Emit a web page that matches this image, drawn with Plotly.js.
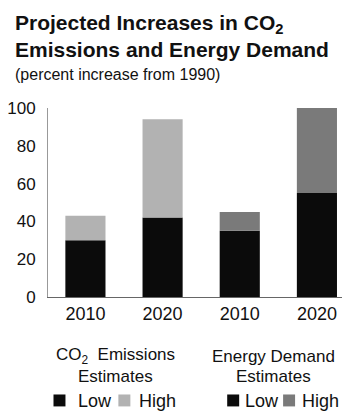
<!DOCTYPE html>
<html>
<head>
<meta charset="utf-8">
<script src="https://cdn.plot.ly/plotly-3.0.1.min.js"></script>
<style>
  html, body { margin: 0; padding: 0; background: #fff; }
  #chart { width: 349px; height: 412px; }
</style>
</head>
<body>
<div id="chart"></div>
<script>
// Projected increase over 1990 levels, in percent
const yearLabels = ['2010', '2020', '2010', '2020'];
const lowEstimate = [30, 42, 35, 55];    // CO2 2010, CO2 2020, Energy 2010, Energy 2020
const highEstimate = [43, 94, 45, 100];  // upper end of each projection
const titleLines = ['Projected Increases in CO<sub>2</sub>', 'Emissions and Energy Demand'];
const subtitle = '(percent increase from 1990)';
const groupTitles = [
  ['CO<sub>2</sub>  Emissions', 'Estimates'],
  ['Energy Demand', 'Estimates']
];
const seriesNames = ['Low', 'High'];

// colours: low estimates in black, high estimates in grey (lighter for CO2)
const lowColor = '#0b0b0b';
const highColors = ['#b2b2b2', '#b2b2b2', '#7a7a7a', '#7a7a7a'];

const FONT = '"Liberation Sans", Arial, Helvetica, sans-serif';
const W = 349, H = 412;
const M = { l: 47.5, r: 7, t: 107.5, b: 114.5 };
const plotW = W - M.l - M.r, plotH = H - M.t - M.b;
// pixel -> paper helpers for the hand-placed texts and legend
const px = x => (x - M.l) / plotW;
const py = y => (H - M.b - y) / plotH;

const xPos = yearLabels.map((_, i) => i);
const highPart = highEstimate.map((v, i) => v - lowEstimate[i]);

const traces = [
  {
    type: 'bar', x: xPos, y: lowEstimate, name: seriesNames[0],
    width: 0.52, marker: { color: lowColor, line: { width: 0 } },
    hoverinfo: 'skip', showlegend: false
  },
  {
    type: 'bar', x: xPos, y: highPart, base: lowEstimate, name: seriesNames[1],
    width: 0.52, marker: { color: highColors, line: { width: 0 } },
    hoverinfo: 'skip', showlegend: false
  }
];

const annotations = [];
const shapes = [];

// heading: two bold lines plus the units note
titleLines.forEach((line, k) => {
  annotations.push({
    text: '<b>' + line + '</b>', xref: 'paper', yref: 'paper',
    x: px(12), y: py(8 + k * 27), xanchor: 'left', yanchor: 'top', showarrow: false,
    font: { family: FONT, size: 21, color: '#111' }
  });
});
annotations.push({
  text: subtitle, xref: 'paper', yref: 'paper',
  x: px(12), y: py(74), xanchor: 'left', yanchor: 'middle', showarrow: false,
  font: { family: FONT, size: 16, color: '#111' }
});

// legend blocks, one per estimate group
const groupCenters = [115, 273];
const swatchLeft = [[53, 118], [227, 283]];
const textLeft = [[76, 137], [243, 300]];
const legendColors = [[lowColor, highColors[0]], [lowColor, highColors[2]]];
groupTitles.forEach((lines, g) => {
  lines.forEach((line, k) => {
    annotations.push({
      text: line, xref: 'paper', yref: 'paper',
      x: px(groupCenters[g]), y: py(357 + k * 20), xanchor: 'center', yanchor: 'middle',
      showarrow: false, font: { family: FONT, size: 17, color: '#111' }
    });
  });
  seriesNames.forEach((name, s) => {
    shapes.push({
      type: 'rect', xref: 'paper', yref: 'paper',
      x0: px(swatchLeft[g][s]), x1: px(swatchLeft[g][s] + 12),
      y0: py(395.5), y1: py(407.5),
      fillcolor: legendColors[g][s], line: { width: 0 }
    });
    annotations.push({
      text: name, xref: 'paper', yref: 'paper',
      x: px(textLeft[g][s]), y: py(402), xanchor: 'left', yanchor: 'middle',
      showarrow: false, font: { family: FONT, size: 18, color: '#111' }
    });
  });
});

const layout = {
  width: W, height: H,
  margin: M,
  paper_bgcolor: '#fff', plot_bgcolor: '#fff',
  barmode: 'overlay',
  font: { family: FONT, color: '#111' },
  xaxis: {
    range: [-0.485, 3.325], tickvals: xPos, ticktext: yearLabels,
    showline: true, linecolor: '#666', linewidth: 1,
    showgrid: false, zeroline: false, ticks: '', fixedrange: true,
    tickfont: { family: FONT, size: 18, color: '#111' }
  },
  yaxis: {
    range: [0, 100], tickvals: [0, 20, 40, 60, 80, 100],
    showline: true, linecolor: '#999', linewidth: 1,
    showgrid: false, zeroline: false, ticks: '', ticklabelstandoff: 8, fixedrange: true,
    tickfont: { family: FONT, size: 17, color: '#111' }
  },
  annotations: annotations,
  shapes: shapes,
  showlegend: false
};

Plotly.newPlot('chart', traces, layout, { displayModeBar: false, staticPlot: true });
</script>
</body>
</html>
